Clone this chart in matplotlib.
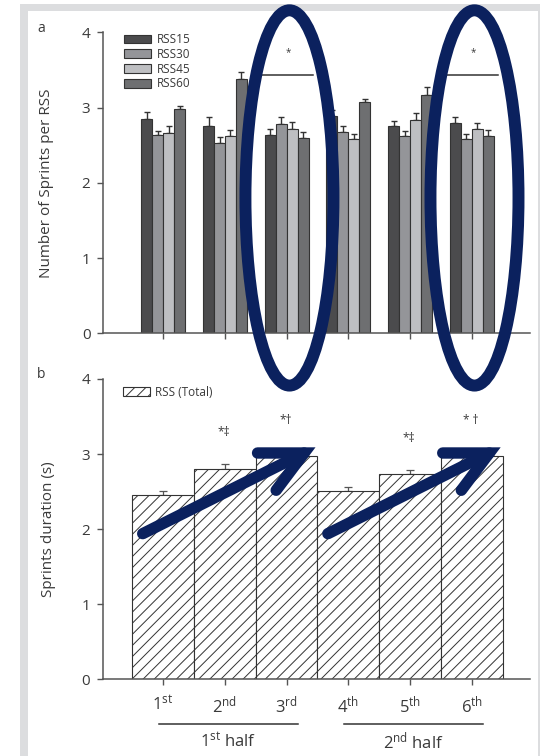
import numpy as np
import matplotlib
matplotlib.use('Agg')
import matplotlib.pyplot as plt
from matplotlib.patches import Ellipse, FancyArrowPatch, Rectangle
from matplotlib.transforms import blended_transform_factory

plt.rcParams['font.family'] = ['Open Sans', 'DejaVu Sans']
plt.rcParams['mathtext.fontset'] = 'custom'
plt.rcParams['mathtext.rm'] = 'Open Sans'
plt.rcParams['mathtext.it'] = 'Open Sans:italic'
plt.rcParams['mathtext.bf'] = 'Open Sans:bold'
plt.rcParams['hatch.linewidth'] = 0.7

# (a) number of sprints per repeated-sprint sequence, per 15-min period
series_names = ['RSS15', 'RSS30', 'RSS45', 'RSS60']
rss15 = [2.85, 2.76, 2.64, 2.89, 2.75, 2.80]
rss30 = [2.64, 2.53, 2.78, 2.68, 2.62, 2.58]
rss45 = [2.67, 2.62, 2.72, 2.58, 2.84, 2.72]
rss60 = [2.98, 3.38, 2.60, 3.07, 3.17, 2.62]
rss15_err = [0.09, 0.11, 0.08, 0.08, 0.07, 0.07]
rss30_err = [0.05, 0.08, 0.09, 0.07, 0.07, 0.07]
rss45_err = [0.08, 0.08, 0.09, 0.07, 0.09, 0.08]
rss60_err = [0.04, 0.10, 0.08, 0.05, 0.10, 0.09]
sig_groups_a = [2, 5]

# (b) sprint duration of all RSS, per 15-min period
period_labels = [r'1$^{\rm st}$', r'2$^{\rm nd}$', r'3$^{\rm rd}$',
                 r'4$^{\rm th}$', r'5$^{\rm th}$', r'6$^{\rm th}$']
duration_total = [2.46, 2.80, 2.98, 2.51, 2.74, 2.98]
duration_err = [0.05, 0.07, 0.05, 0.05, 0.05, 0.05]
duration_marks = ['', '*‡', '*†', '', '*‡', '* †']
half_labels = [r'1$^{\rm st}$ half', r'2$^{\rm nd}$ half']
half_spans = [(0, 2), (3, 5)]

bar_colors = ['#4b4b4d', '#949599', '#bebfc2', '#6e6f71']
edge = '#333333'
text_c = '#3a3a3a'
spine_c = '#555555'
navy = '#0b215e'

W, H = 543, 756
fig = plt.figure(figsize=(W / 100, H / 100), dpi=100)

# grey page frame behind the figure
fig.add_artist(Rectangle((20 / W, 0), 520 / W, 752 / H, transform=fig.transFigure,
                         facecolor='#dcdddf', edgecolor='none', zorder=-3))
fig.add_artist(Rectangle((27.5 / W, 0), 510.5 / W, 745.5 / H, transform=fig.transFigure,
                         facecolor='white', edgecolor='none', zorder=-2))

ax_a = fig.add_axes([103 / W, 1 - 333.3 / H, 427 / W, 300.8 / H])
ax_b = fig.add_axes([102.7 / W, 1 - 679.3 / H, 427.3 / W, 300.3 / H])

x = np.arange(len(rss15))
xlim = (-0.978, 5.945)


def style_axes(ax):
    ax.set_facecolor('none')
    for s in ['top', 'right']:
        ax.spines[s].set_visible(False)
    for s in ['left', 'bottom']:
        ax.spines[s].set_color(spine_c)
        ax.spines[s].set_linewidth(1.1)
    ax.set_xlim(*xlim)
    ax.set_ylim(0, 4)
    ax.set_yticks([0, 1, 2, 3, 4])
    ax.tick_params(axis='both', colors=spine_c, length=4, width=1, labelcolor=text_c)
    ax.tick_params(axis='y', labelsize=11, pad=5)


# ---- panel a ----
style_axes(ax_a)
bw = 0.178
top_values = [rss15, rss30, rss45, rss60]
top_errors = [rss15_err, rss30_err, rss45_err, rss60_err]
for k, (vals, errs, c, name) in enumerate(zip(top_values, top_errors, bar_colors, series_names)):
    pos = x + (k - 1.5) * bw
    ax_a.bar(pos, vals, bw, color=c, edgecolor=edge, linewidth=0.8, label=name, zorder=2)
    ax_a.errorbar(pos, vals, yerr=[np.zeros(len(vals)), errs], fmt='none', ecolor=edge,
                  elinewidth=1, capsize=2.5, capthick=1, zorder=1)
ax_a.set_xticks(x, labels=[])

for g in sig_groups_a:
    ax_a.plot([x[g] - 0.42, x[g] + 0.42], [3.43, 3.43], color=edge, lw=1.1, zorder=3)
    ax_a.text(x[g] + 0.03, 3.73, '*', ha='center', va='center', fontsize=7, color=text_c)

ax_a.legend(loc='upper left', bbox_to_anchor=(0.047, 1.0), frameon=False, fontsize=8.5,
            handlelength=2.3, handleheight=0.75, labelspacing=0.15, handletextpad=0.5,
            borderaxespad=0, borderpad=0.05, labelcolor=text_c)
ax_a.set_ylabel('Number of Sprints per RSS', fontsize=11, color=text_c)
ax_a.yaxis.set_label_coords(-0.115, 0.5)

# ---- panel b ----
style_axes(ax_b)
ax_b.bar(x, duration_total, 1.0, color='white', edgecolor=edge, linewidth=0.8,
         hatch='///', label='RSS (Total)', zorder=2)
ax_b.errorbar(x, duration_total, yerr=[np.zeros(len(x)), duration_err], fmt='none',
              ecolor='#555555', elinewidth=0.9, capsize=3.2, capthick=0.9, zorder=1)
for xi, v, e, m in zip(x, duration_total, duration_err, duration_marks):
    if m:
        ax_b.text(xi - 0.02, v + e + 0.42, m, ha='center', va='center', fontsize=8.5, color=text_c)

ax_b.set_xticks(x, labels=period_labels)
ax_b.tick_params(axis='x', labelsize=12, pad=7)
ax_b.legend(loc='upper left', bbox_to_anchor=(0.040, 0.99), frameon=False, fontsize=8.5,
            handlelength=2.3, handleheight=0.75, handletextpad=0.4,
            borderaxespad=0, borderpad=0.3, labelcolor=text_c)
ax_b.set_ylabel('Sprints duration (s)', fontsize=11, color=text_c)
ax_b.yaxis.set_label_coords(-0.110, 0.5)

trans_b = blended_transform_factory(ax_b.transData, ax_b.transAxes)
for name, (lo, hi) in zip(half_labels, half_spans):
    ax_b.plot([lo - 0.07, hi + 0.18], [-0.15, -0.15], transform=trans_b,
              color=edge, lw=1.1, clip_on=False)
    ax_b.text((lo + hi) / 2 + 0.05, -0.208, name, transform=trans_b,
              ha='center', va='center', fontsize=12, color=text_c)

# panel letters
fig.text(41.7 / W, 1 - 29 / H, 'a', fontsize=10, ha='center', va='center', color=text_c)
fig.text(41.5 / W, 1 - 375 / H, 'b', fontsize=10, ha='center', va='center', color=text_c)

# highlight rings around the last period of each half
for g in sig_groups_a:
    fig.add_artist(Ellipse((x[g] + 0.045, 1.80), 1.427, 4.99, transform=ax_a.transData,
                           fill=False, edgecolor=navy, linewidth=8.6, zorder=5))

# trend arrows across each half
for lo, hi in half_spans:
    arrow = FancyArrowPatch((x[lo] - 0.33, 1.94), (x[hi] + 0.47, 3.09),
                            transform=ax_b.transData,
                            arrowstyle='->,head_length=1.5,head_width=0.75',
                            mutation_scale=20, linewidth=8.2, color=navy,
                            capstyle='round', joinstyle='miter',
                            shrinkA=0, shrinkB=0, zorder=6)
    fig.add_artist(arrow)

fig.savefig('out.png', dpi=100)
